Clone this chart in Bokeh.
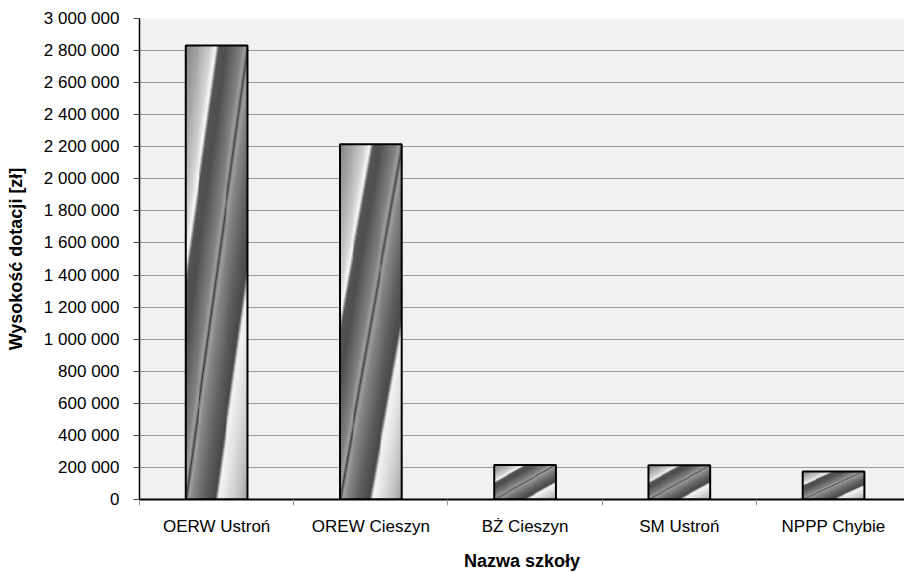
import numpy as np
from bokeh.plotting import figure
from bokeh.models import Range1d, FixedTicker
from bokeh.embed import file_html
from bokeh.resources import INLINE

# ---- data ----
categories = ["OERW Ustroń", "OREW Cieszyn", "BŻ Cieszyn", "SM Ustroń", "NPPP Chybie"]
values = [2832000, 2215000, 215000, 213000, 174000]
y_ticks = list(range(0, 3000001, 200000))
y_tick_labels = ["{:,}".format(t).replace(",", " ") for t in y_ticks]
x_title = "Nazwa szkoły"
y_title = "Wysokość dotacji [zł]"

FONT = "Liberation Sans"
n = len(categories)
xs = [i + 0.5 for i in range(n)]
bar_w = 0.4

p = figure(width=904, height=573, output_backend="svg", toolbar_location=None,
           x_range=Range1d(0, n - 0.04), y_range=Range1d(0, 3000000),
           min_border_left=139, min_border_top=18, min_border_right=0,
           min_border_bottom=66)
p.background_fill_color = "#f1f1f1"
p.border_fill_color = "white"
p.outline_line_color = None

# ---- metallic gradient fill for the bars (normalised bar coordinates) ----
H, W = 400, 64
u = np.linspace(0, 1, W)[None, :]
v = np.linspace(0, 1, H)[:, None]
d = u - v
stops_d = [-1.0, -0.8, -0.6, -0.52, -0.47, -0.35, -0.1, -0.04, -0.015, 0.0,
           0.015, 0.04, 0.1, 0.3, 0.47, 0.52, 0.65, 0.85, 1.0]
stops_g = [135, 168, 212, 250, 85, 78, 130, 160, 115, 55,
           115, 160, 135, 95, 72, 245, 228, 195, 158]
g = np.interp(d, stops_d, stops_g).astype(np.uint8)
img = np.empty((H, W), dtype=np.uint32)
view = img.view(dtype=np.uint8).reshape((H, W, 4))
view[..., 0] = g
view[..., 1] = g
view[..., 2] = g
view[..., 3] = 255

p.image_rgba(image=[img] * n, x=[x - bar_w / 2 for x in xs], y=[0] * n,
             dw=[bar_w] * n, dh=values)
p.vbar(x=xs, top=values, width=bar_w, bottom=0, fill_color=None,
       line_color="black", line_width=2)

# ---- grid ----
p.xgrid.grid_line_color = None
p.ygrid.ticker = FixedTicker(ticks=y_ticks)
p.ygrid.grid_line_color = "#9a9a9a"
p.ygrid.grid_line_width = 1

# ---- y axis ----
ya = p.yaxis[0]
ya.ticker = FixedTicker(ticks=y_ticks)
ya.major_label_overrides = {t: l for t, l in zip(y_ticks, y_tick_labels)}
ya.major_tick_out = 6
ya.major_tick_in = 0
ya.minor_tick_line_color = None
ya.major_tick_line_color = "#444444"
ya.axis_line_color = "black"
ya.axis_line_width = 1.5
ya.major_label_standoff = 14
ya.major_label_text_font = FONT
ya.major_label_text_font_size = "17px"
ya.major_label_text_color = "black"
ya.axis_label = y_title
ya.axis_label_text_font = FONT
ya.axis_label_text_font_size = "18px"
ya.axis_label_text_font_style = "bold"
ya.axis_label_text_color = "black"
ya.axis_label_standoff = 15

# ---- x axis ----
xa = p.xaxis[0]
xa.ticker = FixedTicker(ticks=xs, minor_ticks=list(range(n + 1)))
xa.major_label_overrides = {x: c for x, c in zip(xs, categories)}
xa.major_tick_line_color = None
xa.major_tick_out = 0
xa.major_tick_in = 0
xa.minor_tick_out = 6
xa.minor_tick_in = 0
xa.minor_tick_line_color = "#999999"
xa.axis_line_color = "black"
xa.axis_line_width = 2
xa.major_label_standoff = 11
xa.major_label_text_font = FONT
xa.major_label_text_font_size = "17px"
xa.major_label_text_color = "black"
xa.axis_label = x_title
xa.axis_label_text_font = FONT
xa.axis_label_text_font_size = "18px"
xa.axis_label_text_font_style = "bold"
xa.axis_label_text_color = "black"
xa.axis_label_standoff = 12

open("out.html", "w").write(file_html(p, INLINE))
